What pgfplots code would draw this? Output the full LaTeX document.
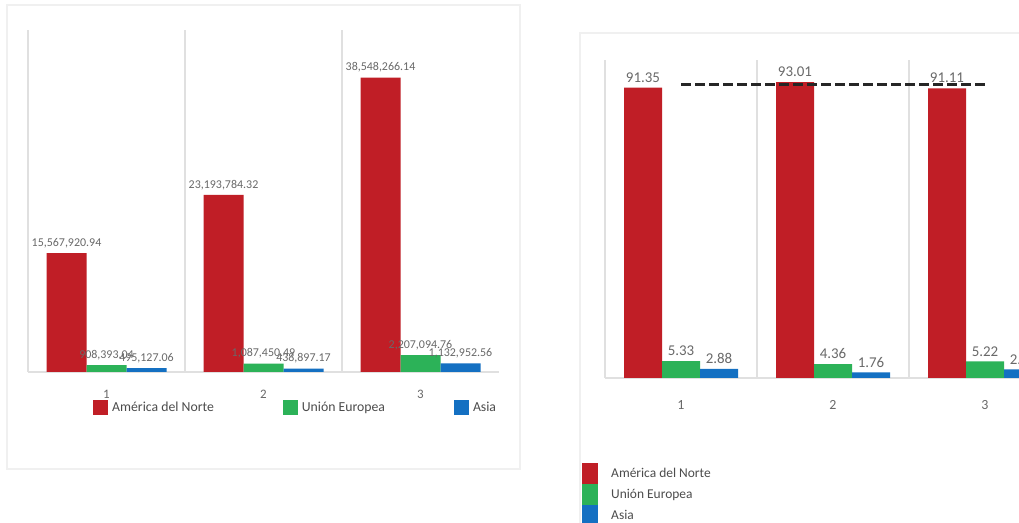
\documentclass[border=0pt]{standalone}
\usepackage{pgfplots}
\pgfplotsset{compat=1.18}
\usepackage{pgfplotstable}
\usepackage{fontspec}
\setmainfont{Carlito}

\definecolor{cRed}{RGB}{192,30,38}
\definecolor{cGreen}{RGB}{44,178,88}
\definecolor{cBlue}{RGB}{20,112,194}
\definecolor{labgray}{RGB}{105,105,105}
\definecolor{gridgray}{RGB}{224,224,224}

% left chart: amounts
\pgfplotstableread{
x y lab
1 15567920.94 15,567,920.94
2 23193784.32 23,193,784.32
3 38548266.14 38,548,266.14
}\amNA
\pgfplotstableread{
x y lab
1 908393.04 908,393.04
2 1087450.49 1,087,450.49
3 2207094.76 2,207,094.76
}\amUE
\pgfplotstableread{
x y lab
1 495127.06 495,127.06
2 438897.17 438,897.17
3 1132952.56 1,132,952.56
}\amAS

% right chart: shares (%)
\pgfplotstableread{
x y lab
1 91.35 91.35
2 93.01 93.01
3 91.11 91.11
}\pcNA
\pgfplotstableread{
x y lab
1 5.33 5.33
2 4.36 4.36
3 5.22 5.22
}\pcUE
\pgfplotstableread{
x y lab
1 2.88 2.88
2 1.76 1.76
3 2.68 2.68
}\pcAS

\pgfplotsset{
  common/.style={
    scale only axis,
    anchor=south west,
    xmin=0.5, xmax=3.5, ymin=0,
    hide y axis,
    axis x line*=bottom,
    x axis line style={draw=gridgray, line width=1.5bp, -},
    xtick={1,2,3}, xticklabels={1,2,3},
    major tick length=0pt,
    extra x ticks={0.5,1.5,2.5},
    extra x tick labels={},
    extra x tick style={grid=major, major grid style={draw=gridgray, line width=1.5bp}},
    ybar=0pt,
    legend image code/.code={\fill[##1] (0bp,-7.5bp) rectangle (15bp,7.5bp);},
  },
  lab/.style={
    point meta=explicit symbolic,
    nodes near coords={\pgfplotspointmeta},
    every node near coord/.append style={font=#1, text=labgray, anchor=south, inner sep=2bp, yshift=3bp},
  },
}

\begin{document}
\begin{tikzpicture}
\useasboundingbox (0bp,0bp) rectangle (1019bp,523bp);
\fill[white] (0bp,0bp) rectangle (1019bp,523bp);
\draw[gray!12, line width=1.5bp] (7bp,518bp) rectangle (520bp,54bp);
\draw[gray!12, line width=1.5bp] (580bp,-10bp) -- (580bp,490bp) -- (1030bp,490bp);

\begin{axis}[common,
  at={(28bp,151bp)}, width=471bp, height=342bp,
  ymax=44.8e6,
  bar width=40bp,
  xticklabel style={font=\fontsize{13}{13}\selectfont, text=labgray, anchor=center, yshift=-22bp},
  legend columns=3,
  legend style={draw=none, fill=none, at={(0.138,-0.105)}, anchor=west, inner sep=0pt,
    font=\fontsize{13.8}{14}\selectfont, text=black!70, cells={anchor=west},
    /tikz/every odd column/.append style={column sep=2bp},
    /tikz/every even column/.append style={column sep=67bp}},
]
\addplot[fill=cRed, draw=none, lab={\fontsize{12}{12}\selectfont}] table[x=x, y=y, meta=lab] {\amNA};
\addlegendentry{América del Norte}
\addplot[fill=cGreen, draw=none, lab={\fontsize{12}{12}\selectfont}] table[x=x, y=y, meta=lab] {\amUE};
\addlegendentry{Unión Europea}
\addplot[fill=cBlue, draw=none, lab={\fontsize{12}{12}\selectfont}] table[x=x, y=y, meta=lab] {\amAS};
\addlegendentry{Asia}
\end{axis}

\begin{axis}[common,
  at={(605bp,145bp)}, width=456bp, height=318bp,
  ymax=100,
  bar width=38bp,
  xticklabel style={font=\fontsize{14}{14}\selectfont, text=labgray, anchor=center, yshift=-27bp},
  legend columns=1,
  legend image code/.code={\fill[#1] (0bp,-10.5bp) rectangle (16bp,10.5bp);},
  legend style={draw=none, fill=none, at={(-0.0504,-0.2673)}, anchor=north west, inner sep=0pt,
    row sep=0pt,
    font=\fontsize{13.5}{14}\selectfont, text=black!70, cells={anchor=west},
    /tikz/every odd column/.append style={column sep=11bp}},
]
\addplot[fill=cRed, draw=none, lab={\fontsize{15}{15}\selectfont}] table[x=x, y=y, meta=lab] {\pcNA};
\addlegendentry{América del Norte}
\addplot[fill=cGreen, draw=none, lab={\fontsize{15}{15}\selectfont}] table[x=x, y=y, meta=lab] {\pcUE};
\addlegendentry{Unión Europea}
\addplot[fill=cBlue, draw=none, lab={\fontsize{15}{15}\selectfont}] table[x=x, y=y, meta=lab] {\pcAS};
\addlegendentry{Asia}
\addplot[sharp plot, forget plot, draw=black!85, line width=3.2bp, dash pattern=on 10bp off 4bp]
  coordinates {(1,92.2) (3,92.2)};
\end{axis}
\end{tikzpicture}
\end{document}
